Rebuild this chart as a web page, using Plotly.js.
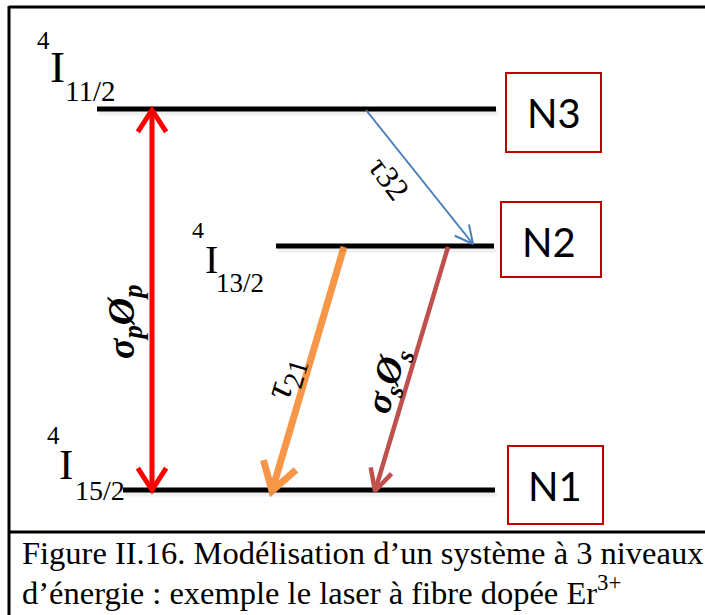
<!DOCTYPE html>
<html>
<head>
<meta charset="utf-8">
<script src="https://cdn.plot.ly/plotly-3.0.1.min.js"></script>
<style>html,body{margin:0;padding:0;background:#fff;}#chart{width:705px;height:615px;}</style>
</head>
<body>
<div id="chart"></div>
<script>
// ---- Diagram data (energy levels of Er3+, 3-level model) ----
const levelNames = ['N3', 'N2', 'N1'];
const levelTerms = ['11/2', '13/2', '15/2'];   // 4I_J term subscripts
const levelEnergy = [109, 246, 490];          // vertical position of each level (diagram units, top = high energy)
const levelStart = [97, 276, 123];
const levelEnd = [496, 494, 495];

// transitions: [startX, startY, endX, endY]
const transNames = ['pump', 'tau32', 'tau21', 'sigmaS'];
const transStartX = [152, 366, 344, 448];
const transStartY = [490, 110, 247, 247];
const transEndX = [152, 473, 272, 375];
const transEndY = [110, 244, 491, 491];
const transDouble = [true, false, false, false];

const captionLines = ['Figure II.16. Modélisation d’un système à 3 niveaux',
                      'd’énergie : exemple le laser à fibre dopée Er<sup>3+</sup>'];

// ---- styles ----
const transColor = ['#ff0000', '#4a7ebb', '#f79646', '#c0504d'];
const transWidth = [5, 2, 7, 4.5];
const headLen = [26, 20, 32, 24];
const headAng = [33, 27, 32, 27];

const traces = [];
const shapes = [];
const annotations = [];

// frame
shapes.push({type:'line', xref:'x', yref:'y', x0:9, y0:7, x1:706, y1:7, line:{color:'#000', width:3}});
shapes.push({type:'line', xref:'x', yref:'y', x0:9, y0:6, x1:9, y1:616, line:{color:'#000', width:3}});
shapes.push({type:'line', xref:'x', yref:'y', x0:9, y0:532, x1:706, y1:532, line:{color:'#000', width:3}});

// levels
for (let i = 0; i < levelNames.length; i++) {
  const y = levelEnergy[i];
  shapes.push({type:'line', xref:'x', yref:'y', x0:levelStart[i]+2, y0:y+4, x1:levelEnd[i]+2, y1:y+4,
               line:{color:'rgba(0,0,0,0.06)', width:5}});
  traces.push({x:[levelStart[i], levelEnd[i]], y:[y, y], mode:'lines', hoverinfo:'skip',
               line:{color:'#000', width:5}});
}

// level boxes
const boxX0 = [506, 501, 508], boxX1 = [601, 601, 603];
const boxY0 = [73, 202, 446], boxY1 = [152, 277, 524];
const boxTextX = [554, 549, 555], boxTextY = [113, 242, 486];
for (let i = 0; i < levelNames.length; i++) {
  shapes.push({type:'rect', xref:'x', yref:'y', x0:boxX0[i], y0:boxY0[i], x1:boxX1[i], y1:boxY1[i],
               line:{color:'#c00000', width:2}, fillcolor:'#fff'});
  annotations.push({x:boxTextX[i], y:boxTextY[i], xref:'x', yref:'y', text:levelNames[i], showarrow:false,
                    xanchor:'center', yanchor:'middle', font:{family:'Lato, "Open Sans", sans-serif', size:40, color:'#000'}});
}

// arrows
function head(x0, y0, x1, y1, len, ang) {
  const dx = x1 - x0, dy = y1 - y0, L = Math.hypot(dx, dy);
  const ux = dx / L, uy = dy / L, a = ang * Math.PI / 180;
  const c = Math.cos(a), s = Math.sin(a);
  const lx = x1 - len * (ux * c - uy * s), ly = y1 - len * (uy * c + ux * s);
  const rx = x1 - len * (ux * c + uy * s), ry = y1 - len * (uy * c - ux * s);
  return {x:[lx, x1, rx], y:[ly, y1, ry]};
}
for (let i = 0; i < transNames.length; i++) {
  const sx = transStartX[i], sy = transStartY[i], ex = transEndX[i], ey = transEndY[i];
  const ln = {color:transColor[i], width:transWidth[i]};
  traces.push({x:[sx, ex], y:[sy, ey], mode:'lines', line:ln, hoverinfo:'skip'});
  const h = head(sx, sy, ex, ey, headLen[i], headAng[i]);
  traces.push({x:h.x, y:h.y, mode:'lines', line:ln, hoverinfo:'skip'});
  if (transDouble[i]) {
    const h2 = head(ex, ey, sx, sy, headLen[i], headAng[i]);
    traces.push({x:h2.x, y:h2.y, mode:'lines', line:ln, hoverinfo:'skip'});
  }
}

// term labels  4I_J
const serif = '"Liberation Serif", "Times New Roman", serif';
const supX = [43, 198, 53], supY = [40, 230, 435], supSize = [25, 24, 25];
const iX = [57, 211, 66], iY = [67, 259, 464], iSize = [45, 40, 43];
const subX = [90, 240, 100], subY = [91, 283, 490], subSize = [29, 27, 28];
for (let i = 0; i < levelTerms.length; i++) {
  annotations.push({x:supX[i], y:supY[i], xref:'x', yref:'y', text:'4', showarrow:false, font:{family:serif, size:supSize[i], color:'#000'}});
  annotations.push({x:iX[i], y:iY[i], xref:'x', yref:'y', text:'I', showarrow:false, font:{family:serif, size:iSize[i], color:'#000'}});
  annotations.push({x:subX[i], y:subY[i], xref:'x', yref:'y', text:levelTerms[i], showarrow:false, font:{family:serif, size:subSize[i], color:'#000'}});
}

// transition labels
const labText = ['<b><i>σ<sub>p</sub>Ø<sub>p</sub></i></b>', 'τ32', '<i>τ</i><sub>21</sub>', '<b><i>σ<sub>s</sub>Ø<sub>s</sub></i></b>'];
const labX = [124, 389, 284, 388], labY = [322, 178, 378, 381];
const labAngle = [-90, 53, -73.5, -73.5];
const labSize = [38, 32, 40, 37];
for (let i = 0; i < labText.length; i++) {
  annotations.push({x:labX[i], y:labY[i], xref:'x', yref:'y', text:labText[i], showarrow:false, textangle:labAngle[i],
                    xanchor:'center', yanchor:'middle', font:{family:serif, size:labSize[i], color:'#000'}});
}

// caption
const capY = [553, 590];
for (let i = 0; i < captionLines.length; i++) {
  annotations.push({x:20, y:capY[i], xref:'x', yref:'y', text:captionLines[i], showarrow:false,
                    xanchor:'left', yanchor:'middle', font:{family:serif, size:32.5, color:'#000'}});
}

const layout = {
  width:705, height:615, margin:{l:0, r:0, t:0, b:0},
  paper_bgcolor:'#fff', plot_bgcolor:'#fff', showlegend:false,
  xaxis:{range:[0, 705], visible:false, fixedrange:true},
  yaxis:{range:[615, 0], visible:false, fixedrange:true},
  shapes:shapes, annotations:annotations
};
Plotly.newPlot('chart', traces, layout, {staticPlot:true, displayModeBar:false});
</script>
</body>
</html>
